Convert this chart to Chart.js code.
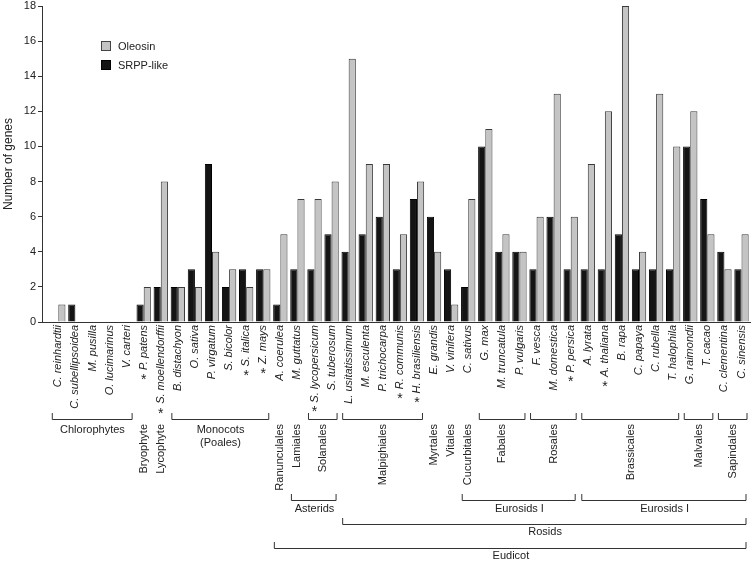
<!DOCTYPE html>
<html>
<head>
<meta charset="utf-8">
<script src="https://cdn.jsdelivr.net/npm/chart.js@4.4.1/dist/chart.umd.min.js"></script>
<style>
  html, body { margin: 0; padding: 0; background: #fff; }
  #wrap { width: 751px; height: 562px; }
</style>
</head>
<body>
<div id="wrap"><canvas id="geneChart"></canvas></div>
<script>
// species on the x axis, in figure order
const species = [
  'C. reinhardtii', 'C. subellipsoidea', 'M. pusilla', 'O. lucimarinus', 'V. carteri',
  'P. patens', 'S. moellendorffii',
  'B. distachyon', 'O. sativa', 'P. virgatum', 'S. bicolor', 'S. italica', 'Z. mays',
  'A. coerulea', 'M. guttatus', 'S. lycopersicum', 'S. tuberosum',
  'L. usitatissimum', 'M. esculenta', 'P. trichocarpa', 'R. communis', 'H. brasiliensis',
  'E. grandis', 'V. vinifera', 'C. sativus', 'G. max', 'M. truncatula', 'P. vulgaris',
  'F. vesca', 'M. domestica', 'P. persica', 'A. lyrata', 'A. thaliana', 'B. rapa',
  'C. papaya', 'C. rubella', 'T. halophila', 'G. raimondii', 'T. cacao',
  'C. clementina', 'C. sinensis'
];
// species marked with an asterisk
const starred = ['P. patens', 'S. moellendorffii', 'S. italica', 'Z. mays', 'S. lycopersicum',
  'R. communis', 'H. brasiliensis', 'P. persica', 'A. thaliana'];

const oleosin = [1, 0, 0, 0, 0, 2, 8, 2, 2, 4, 3, 2, 3, 5, 7, 7, 8, 15, 9, 9, 5, 8,
  4, 1, 7, 11, 5, 4, 6, 13, 6, 9, 12, 18, 4, 13, 10, 12, 5, 3, 5];
const srppLike = [0, 1, 0, 0, 0, 1, 2, 2, 3, 9, 2, 3, 3, 1, 3, 3, 5, 4, 5, 6, 3, 7,
  6, 3, 2, 10, 4, 4, 3, 6, 3, 3, 3, 5, 3, 3, 3, 10, 7, 4, 3];

// taxonomic groups below the labels: [name, first index, last index, bracket?, vertical?]
const orders = [
  ['Chlorophytes', 0, 4, true, false],
  ['Bryophyte', 5, 5, false, true],
  ['Lycophyte', 6, 6, false, true],
  ['Monocots\n(Poales)', 7, 12, true, false],
  ['Ranunculales', 13, 13, false, true],
  ['Lamiales', 14, 14, false, true],
  ['Solanales', 15, 16, true, true],
  ['Malpighiales', 17, 21, true, true],
  ['Myrtales', 22, 22, false, true],
  ['Vitales', 23, 23, false, true],
  ['Cucurbitales', 24, 24, false, true],
  ['Fabales', 25, 27, true, true],
  ['Rosales', 28, 30, true, true],
  ['Brassicales', 31, 36, true, true],
  ['Malvales', 37, 38, true, true],
  ['Sapindales', 39, 40, true, true]
];
const clades = [['Asterids', 14, 16], ['Eurosids I', 24, 30], ['Eurosids I', 31, 40]];
const rosids = [['Rosids', 17, 40]];
const eudicots = [['Eudicot', 13, 40]];

const FONT = "'Liberation Sans', Arial, sans-serif";
const INK = '#222';

function bracket(ctx, x1, x2, y, tip) {
  ctx.beginPath();
  ctx.moveTo(x1 + 0.5, y - tip);
  ctx.lineTo(x1 + 0.5, y + 0.5);
  ctx.lineTo(x2 + 0.5, y + 0.5);
  ctx.lineTo(x2 + 0.5, y - tip);
  ctx.stroke();
}

function vText(ctx, text, x, yTop) {
  ctx.save();
  ctx.translate(x, yTop);
  ctx.rotate(-Math.PI / 2);
  ctx.textAlign = 'right';
  ctx.textBaseline = 'middle';
  ctx.fillText(text, 0, 0);
  const w = ctx.measureText(text).width;
  ctx.restore();
  return w;
}

const annotations = {
  id: 'annotations',
  afterDraw(chart) {
    const ctx = chart.ctx;
    const xs = chart.scales.x;
    const px = i => xs.getPixelForValue(i);
    ctx.save();
    ctx.fillStyle = INK;
    ctx.strokeStyle = '#333';
    ctx.lineWidth = 1;

    // legend
    [['Oleosin', '#c4c4c4', '#444', 41], ['SRPP-like', '#141414', '#000', 60]].forEach(([t, fill, edge, y]) => {
      ctx.fillStyle = fill;
      ctx.fillRect(101, y, 10, 10);
      ctx.strokeStyle = edge;
      ctx.strokeRect(101.5, y + 0.5, 9, 9);
      ctx.fillStyle = INK;
      ctx.font = '11px ' + FONT;
      ctx.textAlign = 'left';
      ctx.textBaseline = 'middle';
      ctx.fillText(t, 118, y + 5.5);
    });
    ctx.strokeStyle = '#333';

    // species names
    species.forEach((name, i) => {
      ctx.font = 'italic 11px ' + FONT;
      const w = vText(ctx, name, px(i), 325);
      if (starred.includes(name)) {
        ctx.font = '14px ' + FONT;
        ctx.textAlign = 'center';
        ctx.textBaseline = 'top';
        ctx.fillText('*', px(i), 325 + w + 3);
      }
    });

    // orders
    ctx.font = '11px ' + FONT;
    orders.forEach(([name, a, b, hasBracket, vertical]) => {
      const x1 = px(a) - 6.5, x2 = px(b) + 5;
      if (hasBracket) bracket(ctx, x1, x2, 419, 6);
      const cx = (px(a) + px(b)) / 2;
      if (vertical) {
        vText(ctx, name, cx, 424);
      } else {
        ctx.textAlign = 'center';
        ctx.textBaseline = 'middle';
        name.split('\n').forEach((line, k) => ctx.fillText(line, cx, 430 + k * 13));
      }
    });

    // higher clades
    const level = (list, y, ty) => list.forEach(([name, a, b]) => {
      bracket(ctx, px(a) - 6.5, px(b) + 4, y, 6);
      ctx.textAlign = 'center';
      ctx.textBaseline = 'middle';
      ctx.fillText(name, (px(a) + px(b)) / 2, ty);
    });
    level(clades, 500, 509);
    level(rosids, 524, 532);
    level(eudicots, 548, 556);
    ctx.restore();
  }
};

const ctx = document.getElementById('geneChart').getContext('2d');
new Chart(ctx, {
  type: 'bar',
  data: {
    datasets: [{
      label: 'SRPP-like',
      data: srppLike.map((v, i) => ({ x: i, y: v })),
      backgroundColor: '#141414',
      borderColor: '#000',
      borderWidth: 1
    }, {
      label: 'Oleosin',
      data: oleosin.map((v, i) => ({ x: i, y: v })),
      backgroundColor: '#c4c4c4',
      borderColor: '#3a3a3a',
      borderWidth: 1
    }]
  },
  options: {
    responsive: true,
    maintainAspectRatio: false,
    animation: false,
    categoryPercentage: 0.84,
    barPercentage: 1.0,
    layout: { padding: { top: 6, right: 0, bottom: 240, left: 0 } },
    plugins: {
      legend: { display: false },
      tooltip: { enabled: false }
    },
    scales: {
      x: {
        type: 'linear',
        offset: false,
        min: -0.954,
        max: 40.556,
        grid: { display: false, drawTicks: false },
        ticks: { display: false },
        border: { color: '#333' },
        afterFit: s => { s.height = 0; }
      },
      y: {
        min: 0,
        max: 18,
        ticks: { stepSize: 2, color: INK, padding: 2, font: { family: FONT, size: 11 } },
        grid: { drawOnChartArea: false, tickLength: 4, color: '#333' },
        border: { color: '#333' },
        title: { display: true, text: 'Number of genes', color: INK, padding: { top: 1, bottom: 0 }, font: { family: FONT, size: 12 } },
        afterFit: s => { s.width = 42; s.paddingTop = 0; s.paddingBottom = 0; }
      }
    }
  },
  plugins: [annotations]
});
</script>
</body>
</html>
